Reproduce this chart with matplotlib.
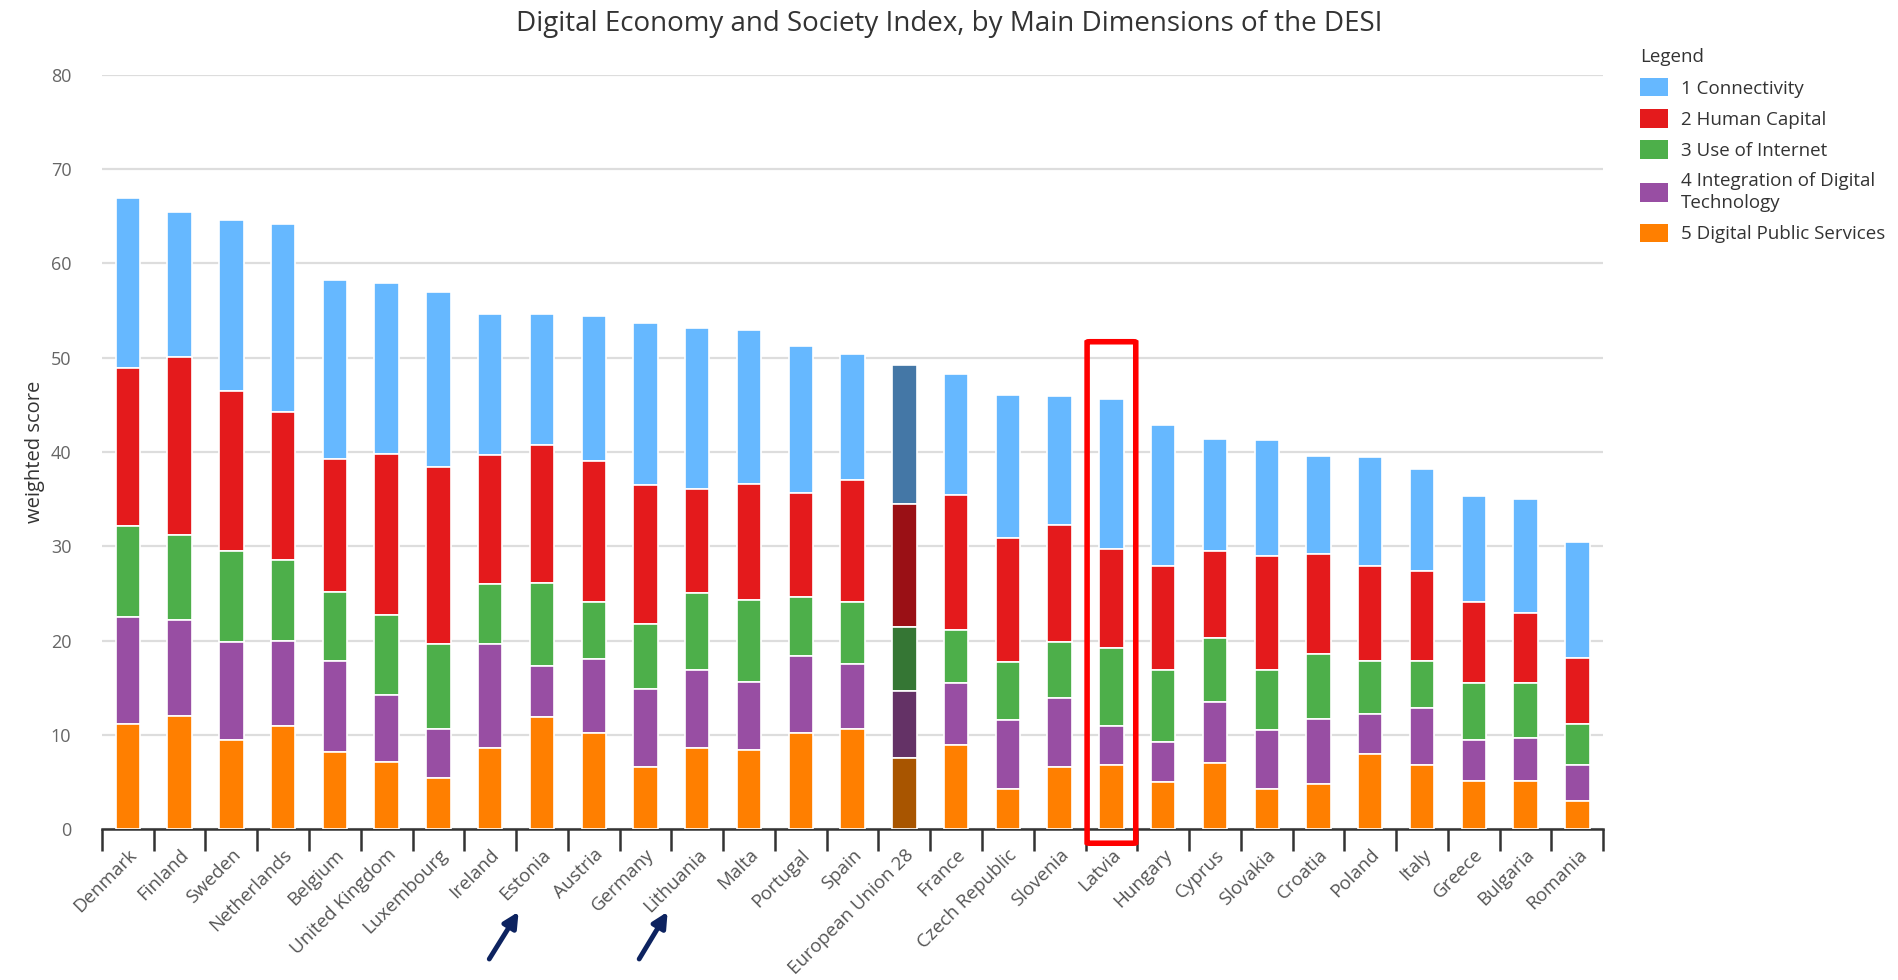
import matplotlib.pyplot as plt
from matplotlib.patches import Patch, FancyBboxPatch
import numpy as np

plt.rcParams['font.family'] = ['Open Sans', 'DejaVu Sans']

countries = ['Denmark', 'Finland', 'Sweden', 'Netherlands', 'Belgium', 'United Kingdom',
             'Luxembourg', 'Ireland', 'Estonia', 'Austria', 'Germany', 'Lithuania', 'Malta',
             'Portugal', 'Spain', 'European Union 28', 'France', 'Czech Republic', 'Slovenia',
             'Latvia', 'Hungary', 'Cyprus', 'Slovakia', 'Croatia', 'Poland', 'Italy',
             'Greece', 'Bulgaria', 'Romania']

# cumulative tops (stack order bottom -> top)
top_public = [11.2, 12.0, 9.5, 10.9, 8.2, 7.1, 5.4, 8.6, 11.9, 10.2, 6.6, 8.6, 8.4,
              10.2, 10.6, 7.5, 8.9, 4.3, 6.6, 6.8, 5.0, 7.0, 4.3, 4.8, 8.0, 6.8, 5.1, 5.1, 3.0]
top_integr = [22.5, 22.2, 19.8, 20.0, 17.8, 14.2, 10.6, 19.6, 17.3, 18.0, 14.9, 16.9, 15.6,
              18.4, 17.5, 14.6, 15.5, 11.6, 13.9, 10.9, 9.2, 13.5, 10.5, 11.7, 12.2, 12.8, 9.5, 9.7, 6.8]
top_internet = [32.1, 31.2, 29.5, 28.5, 25.2, 22.7, 19.6, 26.0, 26.1, 24.1, 21.8, 25.0, 24.3,
                24.6, 24.1, 21.4, 21.1, 17.7, 19.8, 19.2, 16.9, 20.3, 16.9, 18.6, 17.8, 17.8, 15.5, 15.5, 11.1]
top_human = [48.9, 50.1, 46.5, 44.2, 39.3, 39.8, 38.4, 39.7, 40.7, 39.1, 36.5, 36.1, 36.6,
             35.7, 37.0, 34.5, 35.4, 30.9, 32.3, 29.7, 27.9, 29.5, 29.0, 29.2, 27.9, 27.4, 24.1, 22.9, 18.2]
top_connect = [66.9, 65.5, 64.6, 64.2, 58.3, 57.9, 57.0, 54.6, 54.6, 54.4, 53.7, 53.2, 52.9,
               51.3, 50.4, 49.2, 48.3, 46.1, 45.9, 45.6, 42.9, 41.4, 41.3, 39.6, 39.5, 38.2, 35.3, 35.0, 30.5]

series = ['1 Connectivity', '2 Human Capital', '3 Use of Internet',
          '4 Integration of Digital\nTechnology', '5 Digital Public Services']
colors = ['#66b8ff', '#e41a1c', '#4daf4a', '#984ea3', '#ff7f00']
eu_colors = ['#4477a6', '#9a1015', '#357634', '#643266', '#a85500']

tops = [top_connect, top_human, top_internet, top_integr, top_public]
bottoms = [top_human, top_internet, top_integr, top_public, [0] * len(countries)]

fig = plt.figure(figsize=(18.98, 9.8), dpi=100)
ax = fig.add_axes([0.0537, 0.154, 0.791, 0.7695])

x = np.arange(len(countries))
eu = countries.index('European Union 28')
for k in range(5):
    t = np.array(tops[k])
    b = np.array(bottoms[k])
    cols = [eu_colors[k] if i == eu else colors[k] for i in x]
    ax.bar(x, t - b, bottom=b, width=0.47, color=cols, edgecolor='white', linewidth=1.2, zorder=3)

ax.set_xlim(-0.5, len(countries) - 0.5)
ax.set_ylim(0, 80)
ax.set_yticks(range(0, 81, 10))
ax.yaxis.grid(True, color='#dddddd', linewidth=1.6, zorder=0)
ax.set_axisbelow(True)
for s in ['top', 'right', 'left']:
    ax.spines[s].set_visible(False)
ax.spines['bottom'].set_color('#333333')
ax.spines['bottom'].set_linewidth(1.8)
ax.tick_params(axis='y', length=0, labelsize=13, labelcolor='#666666', pad=22)

ax.set_xticks(x)
ax.set_xticklabels(countries, rotation=45, ha='right', rotation_mode='anchor',
                   fontsize=13.5, color='#555555')
ax.tick_params(axis='x', length=0, pad=12)
ax.set_xticks(np.arange(-0.5, len(countries)), minor=True)
ax.tick_params(axis='x', which='minor', length=16, width=1.8, color='#333333')

ax.set_ylabel('weighted score', fontsize=14.5, color='#333333', labelpad=4)

fig.suptitle('Digital Economy and Society Index, by Main Dimensions of the DESI',
             fontsize=20, color='#333333', y=0.99)

handles = [Patch(facecolor=c, edgecolor='none') for c in colors]
leg = fig.legend(handles, series, loc='upper left', bbox_to_anchor=(0.855, 0.968),
                 frameon=False, title='Legend', fontsize=13.5, title_fontsize=13.5,
                 handlelength=1.5, handleheight=1.15, handletextpad=0.7, labelspacing=0.62,
                 alignment='left')
leg.get_title().set_color('#333333')
for t in leg.get_texts():
    t.set_color('#333333')
    t.set_linespacing(1.3)

# red box around Latvia
lat = countries.index('Latvia')
box = FancyBboxPatch((lat - 0.47, -1.5), 0.94, 53.2, boxstyle='round,pad=0,rounding_size=0.05',
                     fill=False, edgecolor='#ff0000', linewidth=4, clip_on=False, zorder=5)
ax.add_patch(box)

# arrows pointing at Estonia and Lithuania
for xs, xe in [(0.257, 0.274), (0.336, 0.3525)]:
    fig.add_artist(plt.Annotation('', xy=(xe, 0.072), xytext=(xs, 0.019),
                                  xycoords='figure fraction', textcoords='figure fraction',
                                  arrowprops=dict(arrowstyle='-|>,head_length=0.9,head_width=0.45',
                                                  color='#0d2360', lw=3.5)))

fig.savefig('out.png', dpi=100)
